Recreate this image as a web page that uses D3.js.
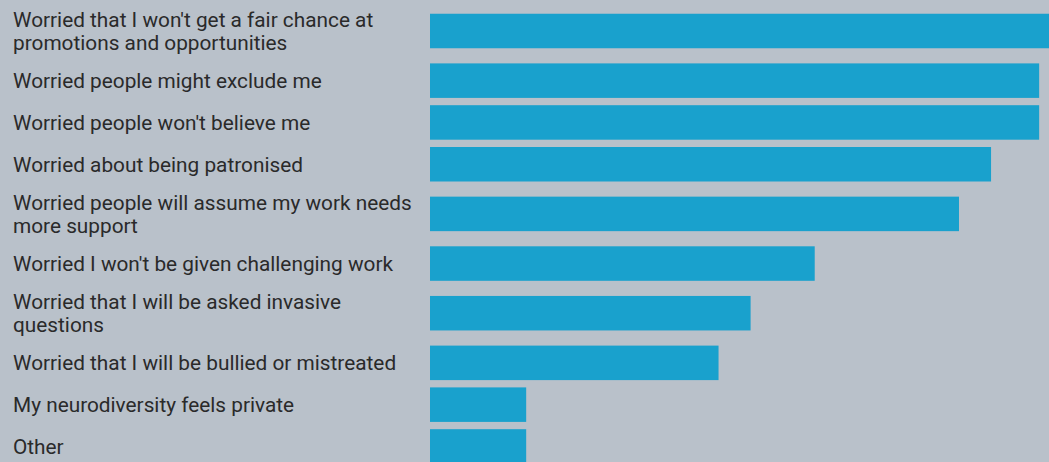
<!DOCTYPE html>
<html>
<head>
<meta charset="utf-8">
<script src="https://cdn.jsdelivr.net/npm/d3@7"></script>
<style>
  html, body { margin: 0; padding: 0; background: #b9c1ca; overflow: hidden; }
  svg { display: block; }
</style>
</head>
<body>
<svg id="chart" width="1049" height="462"></svg>
<script>
// Survey reasons (line breaks mark where a label wraps) and share of respondents (%)
const categories = [
  "Worried that I won't get a fair chance at\npromotions and opportunities",
  "Worried people might exclude me",
  "Worried people won't believe me",
  "Worried about being patronised",
  "Worried people will assume my work needs\nmore support",
  "Worried I won't be given challenging work",
  "Worried that I will be asked invasive\nquestions",
  "Worried that I will be bullied or mistreated",
  "My neurodiversity feels private",
  "Other"
];
const values = [40, 38, 38, 35, 33, 24, 20, 18, 6, 6];

const W = 1049, H = 462;
const svg = d3.select("#chart");

const lines = categories.map(c => c.split("\n"));

// Rows grow with the number of label lines
const singleRow = 41.8, doubleRow = 57.5, topPad = 2.25;
const rowH = lines.map(l => l.length > 1 ? doubleRow : singleRow);
const tops = Array.from(d3.cumsum([topPad, ...rowH]));
const centers = rowH.map((h, i) => tops[i] + h / 2);

const y = d3.scaleOrdinal().domain(categories).range(centers);
const x = d3.scaleLinear().domain([0, 40]).range([430, 1071.2]);

const barH = 34.5;

svg.append("g")
  .selectAll("rect")
  .data(categories)
  .join("rect")
  .attr("x", x(0))
  .attr("y", d => y(d) - barH / 2)
  .attr("width", (d, i) => x(values[i]) - x(0))
  .attr("height", barH)
  .attr("fill", "#19a1cd");

const lineGap = 23;
const labels = svg.append("g")
  .attr("font-family", "Roboto, 'Noto Sans', sans-serif")
  .attr("font-size", 20.8)
  .attr("fill", "#2a2a2a");

labels.selectAll("text")
  .data(categories)
  .join("text")
  .attr("x", 13)
  .each(function (d, i) {
    const ls = lines[i];
    const n = ls.length;
    d3.select(this).selectAll("tspan")
      .data(ls)
      .join("tspan")
      .attr("x", 13)
      .attr("y", (t, k) => y(d) + (k - (n - 1) / 2) * lineGap + 7.4)
      .text(t => t);
  });
</script>
</body>
</html>
